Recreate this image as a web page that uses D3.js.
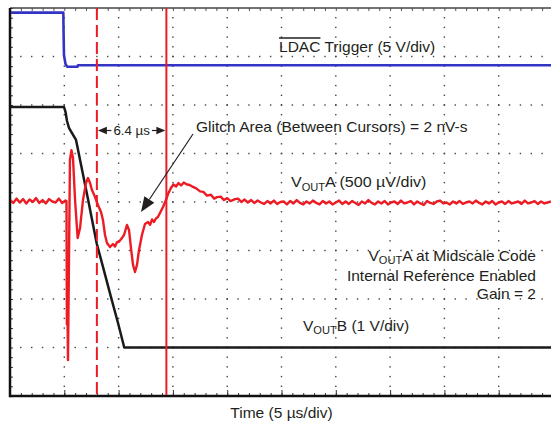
<!DOCTYPE html>
<html><head><meta charset="utf-8">
<script src="https://cdn.jsdelivr.net/npm/d3@7"></script>
<style>body{margin:0;background:#fff;} svg{display:block;}</style>
</head><body><svg id="c" width="551" height="426"></svg>
<script>
// ---- data ----
// time in µs (5 µs/div, 10 divisions)
const blueT = [0, 4.91, 4.93, 4.97, 5.11, 5.25, 6.22, 6.26, 50];
const blueV = [5.42, 5.42, 3.63, 1.05, 0.13, -0.15, -0.15, 0, 0];           // V (5 V/div)
const blackT = [0, 4.97, 5.11, 5.25, 5.43, 5.71, 6.08, 7.18, 7.98, 8.66, 9.30, 9.94, 10.52, 50];
const blackV = [4.96, 4.96, 4.86, 4.67, 4.53, 4.42, 4.28, 3.06, 2.15, 1.58, 1.04, 0.51, 0, 0]; // V (1 V/div)
const redT = [0,0.3,0.6,0.9,1.2,1.5,1.8,2.1,2.4,2.7,3.0,3.3,3.6,3.9,4.2,4.5,4.8,5.1,
 5.20,5.24,5.28,5.34,5.43,5.52,5.66,5.80,5.99,6.23,6.45,6.72,7.00,7.18,7.37,7.55,7.83,8.10,8.38,8.56,8.75,8.93,9.21,9.48,9.67,9.85,10.03,10.22,10.50,10.77,10.96,11.14,11.33,11.51,11.69,11.88,12.15,12.43,12.71,12.90,13.08,13.26,13.44,13.62,13.81,14.09,14.36,14.55,14.82,15.05,15.29,15.52,15.75,16.0,16.30,16.55,16.85,17.15,17.50,17.8,18.14,18.5,18.8,19.06,19.4,19.7,20.0,20.3,20.72,21.0,21.3,21.6,21.9,22.2,22.5,22.8,23.1,23.4,23.7,24.0,24.3,24.6,24.9,
 25.2,25.5,25.8,26.1,26.4,26.7,27.0,27.3,27.6,27.9,28.2,28.5,28.8,29.1,29.4,29.7,30.0,30.3,30.6,30.9,
 31.2,31.5,31.8,32.1,32.4,32.7,33.0,33.3,33.6,33.9,34.2,34.5,34.8,35.1,35.4,35.7,36.0,36.3,36.6,36.9,
 37.2,37.5,37.8,38.1,38.4,38.7,39.0,39.3,39.6,39.9,40.2,40.5,40.8,41.1,41.4,41.7,42.0,42.3,42.6,42.9,
 43.2,43.5,43.8,44.1,44.4,44.7,45.0,45.3,45.6,45.9,46.2,46.5,46.8,47.1,47.4,47.7,48.0,48.3,48.6,48.9,
 49.2,49.5,49.8];
const redV = [10,-20,25,-15,20,-25,15,-10,30,-20,10,-25,20,-5,-15,25,-20,5,
 0,-1270,-1000,-1640,-608,423,525,443,10,-381,-278,10,186,237,186,113,41,-41,-113,-196,-350,-433,-474,-443,-470,-425,-420,-395,-350,-247,-299,-485,-660,-732,-660,-505,-350,-237,-216,-245,-190,-215,-180,-165,-124,-62,10,72,134,170,150,185,160,190,170,165,145,130,100,95,55,65,25,40,45,10,30,0,20,25,-10,15,-15,10,-20,5,-15,-30,0,-25,5,-30,-10,
 -5,-35,0,-25,10,-20,-35,-5,-25,5,-20,-35,0,-25,-5,-35,-15,5,-30,-5,
 -30,0,-20,-40,-5,-25,10,-20,-35,-5,-25,0,-35,-15,-5,-30,5,-25,-15,0,
 -35,-5,-25,-40,0,-20,-30,-5,5,-25,-15,-35,-5,-25,0,-30,-15,-5,-25,5,
 -20,-35,-5,-25,0,-35,-15,-5,-30,0,-25,-15,-5,-30,5,-25,-15,0,-30,-5,
 -25,-15,-5];   // µV deviation (500 µV/div)
const cursorT = [8.0, 14.4];   // µs
const cursorLabel = "6.4 µs";
const xLabel = "Time (5 µs/div)";

// ---- layout ----
const L = 10, R = 553, T = 8, B = 396;
const svg = d3.select("#c");
const font = "'Liberation Sans', Arial, sans-serif";
const ink = "#231f20";
const x = d3.scaleLinear().domain([0, 50]).range([L, R]);
const yDiv = d3.scaleLinear().domain([0, 8]).range([B, T]);
const chan = (gndDiv, perDiv) => d3.scaleLinear().domain([-gndDiv*perDiv, (8-gndDiv)*perDiv]).range([B, T]);
const yBlue = chan(6.82, 5), yBlack = chan(1.0, 1), yRed = chan(4.02, 500);

// graticule dots
const g = svg.append("g");
const majX = d3.range(1, 10), majY = d3.range(1, 8);
majX.forEach(i => {
  d3.range(1, 40).forEach(j => g.append("rect").attr("x", x(i*5)-0.7).attr("y", yDiv(j/5)-0.7)
    .attr("width", 1.4).attr("height", 1.4).attr("fill", j%5===0 ? "#222" : "#444"));
});
majY.forEach(k => {
  d3.range(1, 50).forEach(m => g.append("rect").attr("x", x(m)-0.7).attr("y", yDiv(k)-0.7)
    .attr("width", 1.4).attr("height", 1.4).attr("fill", "#444"));
});

// border ticks via axes
const minorX = d3.range(0, 51, 1), minorY = d3.range(0, 8.01, 0.2);
svg.append("g").attr("transform", `translate(0,${B})`).call(d3.axisTop(x).tickValues(minorX).tickSize(3).tickFormat(""))
  .call(s => { s.select(".domain").remove(); s.selectAll("line").attr("stroke", "#333"); });
svg.append("g").attr("transform", `translate(0,${B})`).call(d3.axisTop(x).tickValues(d3.range(5, 50, 5)).tickSize(6).tickFormat(""))
  .call(s => { s.select(".domain").remove(); s.selectAll("line").attr("stroke", "#333"); });
svg.append("g").attr("transform", `translate(0,${T})`).call(d3.axisBottom(x).tickValues(minorX).tickSize(3).tickFormat(""))
  .call(s => { s.select(".domain").remove(); s.selectAll("line").attr("stroke", "#555"); });
svg.append("g").attr("transform", `translate(${L},0)`).call(d3.axisRight(yDiv).tickValues(minorY).tickSize(3).tickFormat(""))
  .call(s => { s.select(".domain").remove(); s.selectAll("line").attr("stroke", "#333"); });

// frame
svg.append("line").attr("x1", L).attr("x2", R).attr("y1", T).attr("y2", T).attr("stroke", "#444").attr("stroke-width", 1.3);
svg.append("line").attr("x1", L).attr("x2", L).attr("y1", T).attr("y2", B+1.2).attr("stroke", "#111").attr("stroke-width", 2.5);
svg.append("line").attr("x1", L).attr("x2", R).attr("y1", B).attr("y2", B).attr("stroke", "#111").attr("stroke-width", 2.5);

// clip
svg.append("clipPath").attr("id", "clip").append("rect").attr("x", L+1).attr("y", T).attr("width", R-L).attr("height", B-T-1);
const plot = svg.append("g").attr("clip-path", "url(#clip)");

const line = (ys) => d3.line().x(d => x(d[0])).y(d => ys(d[1]));
plot.append("path").datum(d3.zip(blackT, blackV)).attr("d", line(yBlack))
  .attr("fill", "none").attr("stroke", "#1a1a1a").attr("stroke-width", 2.5).attr("stroke-linejoin", "round");
plot.append("path").datum(d3.zip(blueT, blueV)).attr("d", line(yBlue))
  .attr("fill", "none").attr("stroke", "#3434c4").attr("stroke-width", 2.6).attr("stroke-linejoin", "round");
plot.append("path").datum(d3.zip(redT, redV)).attr("d", line(yRed))
  .attr("fill", "none").attr("stroke", "#ed1c24").attr("stroke-width", 2.4).attr("stroke-linejoin", "round");

// cursors
plot.append("line").attr("x1", x(cursorT[0])).attr("x2", x(cursorT[0])).attr("y1", T).attr("y2", B)
  .attr("stroke", "#ed1c24").attr("stroke-width", 2).attr("stroke-dasharray", "12,5");
plot.append("line").attr("x1", x(cursorT[1])).attr("x2", x(cursorT[1])).attr("y1", T).attr("y2", B)
  .attr("stroke", "#ed1c24").attr("stroke-width", 2);

// text helper
const SX = 1.11;
function label(px, py, parts, anchor, size) {
  const t = svg.append("text").attr("transform", `translate(${px},${py}) scale(${SX},1)`)
    .attr("font-family", font).attr("font-size", size || 14).attr("fill", ink).attr("text-anchor", anchor || "start");
  parts.forEach(p => {
    if (p.sub) t.append("tspan").attr("font-size", 10).attr("dy", 3.5).text(p.sub);
    else t.append("tspan").attr("dy", p.after ? -3.5 : 0).text(p.t);
  });
  return t;
}

// LDAC trigger
const ld = label(279, 52, [{t: "LDAC Trigger (5 V/div)"}]);
const ldw = ld.node().getSubStringLength(0, 4);
svg.append("line").attr("transform", `translate(279,0) scale(${SX},1)`).attr("x1", 0).attr("x2", ldw)
  .attr("y1", 38).attr("y2", 38).attr("stroke", ink).attr("stroke-width", 1.6);

label(196, 131.5, [{t: "Glitch Area (Between Cursors) = 2 nV-s"}]);
label(291, 187, [{t: "V"}, {sub: "OUT"}, {t: "A (500 µV/div)", after: true}], "start", 14.5);
label(536, 260.5, [{t: "V"}, {sub: "OUT"}, {t: "A at Midscale Code", after: true}], "end");
label(536, 281, [{t: "Internal Reference Enabled"}], "end");
label(536, 298.5, [{t: "Gain = 2"}], "end");
label(303, 330.5, [{t: "V"}, {sub: "OUT"}, {t: "B (1 V/div)", after: true}]);
label((L + R) / 2, 418, [{t: xLabel}], "middle");

// 6.4 µs dimension
const c0 = x(cursorT[0]), c1 = x(cursorT[1]), ay = 130.5;
const mid = (c0 + c1) / 2;
const dl = label(mid, ay + 4.5, [{t: cursorLabel}], "middle", 12);
const hw = dl.node().getComputedTextLength() * SX / 2;
svg.append("line").attr("x1", c0 + 8).attr("x2", mid - hw - 2).attr("y1", ay).attr("y2", ay).attr("stroke", ink).attr("stroke-width", 1.2);
svg.append("line").attr("x1", mid + hw + 2).attr("x2", c1 - 8).attr("y1", ay).attr("y2", ay).attr("stroke", ink).attr("stroke-width", 1.2);
svg.append("path").attr("d", `M${c0+1},${ay} L${c0+10},${ay-3.8} L${c0+10},${ay+3.8}Z`).attr("fill", ink);
svg.append("path").attr("d", `M${c1-1},${ay} L${c1-10},${ay-3.8} L${c1-10},${ay+3.8}Z`).attr("fill", ink);

// glitch leader arrow
const from = [193, 134], tip = [141, 212];
const dx = tip[0] - from[0], dy = tip[1] - from[1], len = Math.hypot(dx, dy);
const ux = dx / len, uy = dy / len, hl = 15, hwid = 6;
const bx = tip[0] - ux * hl, by = tip[1] - uy * hl;
svg.append("line").attr("x1", from[0]).attr("y1", from[1]).attr("x2", bx).attr("y2", by).attr("stroke", ink).attr("stroke-width", 1.2);
svg.append("path").attr("d", `M${tip[0]},${tip[1]} L${bx - uy*hwid},${by + ux*hwid} L${bx + uy*hwid},${by - ux*hwid}Z`).attr("fill", ink);
</script></body></html>
